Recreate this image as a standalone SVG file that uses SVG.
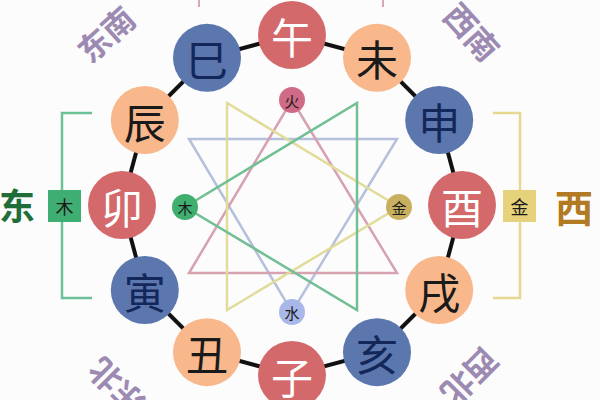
<svg xmlns="http://www.w3.org/2000/svg" width="600" height="400" viewBox="0 0 600 400">
<defs>
<style>
.cjk{font-family:"Noto Sans CJK SC","Noto Sans",sans-serif;text-anchor:middle;dominant-baseline:central}
.big{font-size:42px}
.small{font-size:15px;fill:#1a1a1a}
.red circle{fill:#d4696b}
.red text{fill:#ffffff}
.blue circle{fill:#5b77ad}
.blue text{fill:#14275a}
.peach circle{fill:#f8b88b}
.peach text{fill:#1a1a1a}
.tri{fill:none;stroke-width:2.5;stroke-linejoin:miter}
.dir{font-weight:bold;font-size:32px}
.br{fill:none;stroke-width:2.5}
</style>
</defs>
<rect width="600" height="400" fill="#fcfcfc"/>

<!-- direction labels -->
<text class="cjk dir" x="105" y="33" fill="#9c8ab2" transform="rotate(-42 105 33)">东南</text>
<text class="cjk dir" x="473" y="31" fill="#9c8ab2" transform="rotate(48 473 31)">西南</text>
<text class="cjk dir" x="115" y="388" fill="#9c8ab2" transform="rotate(225 115 388)">东北</text>
<text class="cjk dir" x="471" y="378" fill="#9c8ab2" transform="rotate(135 471 378)">西北</text>
<text class="cjk dir" x="17" y="204" fill="#1f6e3a" style="font-size:36px">东</text>
<text class="cjk dir" x="574" y="205" fill="#b27a22" style="font-size:38px">西</text>

<!-- brackets -->
<g id="brackets">
<line x1="199" y1="0" x2="199" y2="7" stroke="#d8a8b4" stroke-width="2"/>
<line x1="383" y1="0" x2="383" y2="7" stroke="#d8a8b4" stroke-width="2"/>
<polyline class="br" stroke="#6cc096" points="92,113 62,113 62,298 92,298"/>
<polyline class="br" stroke="#e6d890" points="493,113 520,113 520,298 493,298"/>
</g>
<g id="wood-box">
<rect x="48" y="190" width="33" height="32" fill="#3fae72"/>
<text class="cjk" x="64.5" y="206" style="font-size:18px" fill="#1a1a1a">木</text>
</g>
<g id="metal-box">
<rect x="503" y="190" width="33" height="32" fill="#e6d27a"/>
<text class="cjk" x="519.5" y="206" style="font-size:18px" fill="#1a1a1a">金</text>
</g>

<!-- connectors -->
<g id="connectors">
<polygon fill="none" stroke="#111111" stroke-width="4" points="292,35 377,57.8 439.2,120 462,205 439.2,290 377,352.2 292,375 207,352.2 144.8,290 122,205 144.8,120 207,57.8"/>
<polygon class="tri" stroke="#b4c0dc" points="189,139 397,139 292,312"/>
<polygon class="tri" stroke="#d6a2b0" points="292,100 189,273 397,273"/>
<polygon class="tri" stroke="#e2dc9a" points="227,103 227,310 399,207"/>
<polygon class="tri" stroke="#72bf94" points="357,103 357,310 185,207"/>
</g>

<!-- element nodes -->
<g id="fire"><circle cx="292" cy="100" r="13" fill="#cf6b86"/><text class="cjk small" x="292" y="100">火</text></g>
<g id="wood"><circle cx="185" cy="207" r="13" fill="#3fae6e"/><text class="cjk small" x="185" y="207">木</text></g>
<g id="metal"><circle cx="399" cy="207" r="13" fill="#c8b060"/><text class="cjk small" x="399" y="207">金</text></g>
<g id="water"><circle cx="292" cy="312" r="13" fill="#a9b8e8"/><text class="cjk small" x="292" y="312">水</text></g>

<!-- branch nodes -->
<g id="wu" class="red"><circle cx="292" cy="35" r="34"/><text class="cjk big" x="292" y="35">午</text></g>
<g id="wei" class="peach"><circle cx="377" cy="57.8" r="34"/><text class="cjk big" x="377" y="57.8">未</text></g>
<g id="shen" class="blue"><circle cx="439.2" cy="120" r="34"/><text class="cjk big" x="439.2" y="120">申</text></g>
<g id="you" class="red"><circle cx="462" cy="205" r="34"/><text class="cjk big" x="462" y="205">酉</text></g>
<g id="xu" class="peach"><circle cx="439.2" cy="290" r="34"/><text class="cjk big" x="439.2" y="290">戌</text></g>
<g id="hai" class="blue"><circle cx="377" cy="352.2" r="34"/><text class="cjk big" x="377" y="352.2">亥</text></g>
<g id="zi" class="red"><circle cx="292" cy="375" r="34"/><text class="cjk big" x="292" y="375">子</text></g>
<g id="chou" class="peach"><circle cx="207" cy="352.2" r="34"/><text class="cjk big" x="207" y="352.2">丑</text></g>
<g id="yin" class="blue"><circle cx="144.8" cy="290" r="34"/><text class="cjk big" x="144.8" y="290">寅</text></g>
<g id="mao" class="red"><circle cx="122" cy="205" r="34"/><text class="cjk big" x="122" y="205">卯</text></g>
<g id="chen" class="peach"><circle cx="144.8" cy="120" r="34"/><text class="cjk big" x="144.8" y="120">辰</text></g>
<g id="si" class="blue"><circle cx="207" cy="57.8" r="34"/><text class="cjk big" x="207" y="57.8">巳</text></g>
</svg>
